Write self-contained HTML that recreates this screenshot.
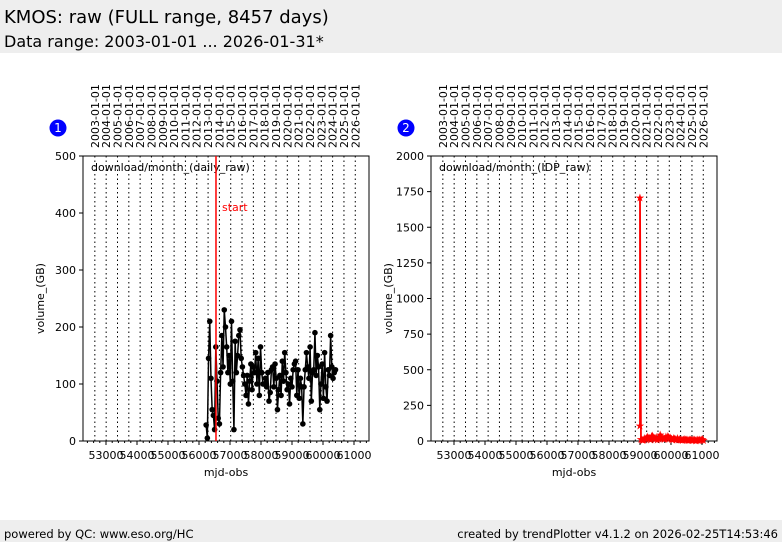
<!DOCTYPE html>
<html><head><meta charset="utf-8">
<style>
body{margin:0;width:782px;height:542px;background:#fff;font-family:"DejaVu Sans","Liberation Sans",sans-serif;position:relative;overflow:hidden}
#hdr{position:absolute;left:0;top:0;width:782px;height:53px;background:#eeeeee}
#t1{position:absolute;left:4px;top:7px;font-size:18px;color:#000}
#t2{position:absolute;left:4px;top:32px;font-size:16px;color:#000}
#ftr{position:absolute;left:0;top:520px;width:782px;height:22px;background:#eeeeee;font-size:11.5px}
#fl{position:absolute;left:4px;top:7px}
#fr{position:absolute;right:4px;top:7px}
svg{position:absolute;left:0;top:0}
</style></head><body>
<div id="hdr">
<div id="t1">KMOS: raw (FULL range, 8457 days)</div>
<div id="t2">Data range: 2003-01-01 ... 2026-01-31*</div>
</div>
<div id="ftr">
<span id="fl">powered by QC: www.eso.org/HC</span>
<span id="fr">created by trendPlotter v4.1.2 on 2026-02-25T14:53:46</span>
</div>
<svg id="chart" width="782" height="542"></svg>
<script>
const years=["2003","2004","2005","2006","2007","2008","2009","2010","2011","2012","2013","2014","2015","2016","2017","2018","2019","2020","2021","2022","2023","2024","2025","2026"];
const xTicks=[53000,54000,55000,56000,57000,58000,59000,60000,61000];
const leftYTicks=[0,100,200,300,400,500];
const rightYTicks=[0,250,500,750,1000,1250,1500,1750,2000];
const leftMjd0=56230, leftStep=39;
const leftValues=[28,5,145,210,110,55,45,20,165,105,40,30,120,185,130,230,200,165,120,150,100,210,105,20,175,120,150,185,195,145,130,115,100,80,115,65,105,135,90,130,120,155,100,145,80,165,120,100,100,110,95,120,70,85,125,130,95,135,110,55,90,115,80,140,105,155,120,90,100,65,110,95,125,135,140,80,125,75,110,95,30,95,125,155,130,110,165,70,120,125,190,115,150,130,55,100,135,75,155,95,70,125,115,185,130,110,120,125];
const startMjd=56548;
const rightMjd0=59000, rightStep=31;
const rightValues=[110,1710,15,10,8,12,20,15,25,30,18,22,12,35,40,28,20,15,25,10,18,22,45,30,25,20,15,18,30,22,35,28,20,25,15,12,20,18,15,10,22,12,15,10,12,8,10,14,9,12,10,6,8,10,12,6,8,10,12,5,8,10,6,10,7,12,14,8];
const NS="http://www.w3.org/2000/svg";
const svg=document.getElementById('chart');
function el(t,a,p){const e=document.createElementNS(NS,t);for(const k in a)e.setAttribute(k,a[k]);(p||svg).appendChild(e);return e;}
const XMIN=52258,XMAX=61484;
function mk(left){
 const L=left?83:431,R=left?369:717,T=156,B=441;
 const ymax=left?500:2000;
 const sx=v=>L+(v-XMIN)/(XMAX-XMIN)*(R-L);
 const sy=v=>B-v/ymax*(B-T);
 return {L,R,T,B,sx,sy};
}
function yearMjd(y){return Math.round((Date.UTC(+y,0,1)-Date.UTC(1858,10,17))/86400000);}
function panel(left){
 const a=mk(left);
 const g=el('g',{});
 
 
 years.forEach(y=>{
  const x=a.sx(yearMjd(y));
  const ln=el('line',{x1:x,x2:x,y1:a.T,y2:a.B,stroke:'#000','stroke-width':1,'stroke-dasharray':'1.5,3'},g);
  
  
  const tx=el('text',{x:x+4,y:a.T-8,'font-size':11,transform:`rotate(-90 ${x+4} ${a.T-8})`},g);
  tx.textContent=y+'-01-01';
  
  
 });
 for(let v=52400;v<=61400;v+=200){
  const x=a.sx(v);const maj=v%1000===0;
  el('line',{x1:x,x2:x,y1:a.B,y2:a.B+(maj?4:2),stroke:'#000'},g);
 }
 xTicks.forEach(v=>{
  const t=el('text',{x:a.sx(v),y:a.B+18,'font-size':11,'text-anchor':'middle'},g);
  t.textContent=v;
  
  
 });
 (left?leftYTicks:rightYTicks).forEach(v=>{
  const y=a.sy(v);
  el('line',{x1:a.L-4,x2:a.L,y1:y,y2:y,stroke:'#000'},g);
  const t=el('text',{x:a.L-7,y:y+4,'font-size':11,'text-anchor':'end'},g);
  t.textContent=v;
  
  
 });
 const fr=el('rect',{x:a.L,y:a.T,width:a.R-a.L,height:a.B-a.T,fill:'none',stroke:'#000','stroke-width':1},g);
 
 
 const xl=el('text',{x:(a.L+a.R)/2,y:a.B+35,'font-size':11,'text-anchor':'middle'},g);
 xl.textContent='mjd-obs';
 
 
 const yx=a.L-39,yy=(a.T+a.B)/2;
 const yl=el('text',{x:yx,y:yy,'font-size':11,'text-anchor':'middle',transform:`rotate(-90 ${yx} ${yy})`},g);
 yl.textContent='volume_(GB)';
 
 
 const lb=el('text',{x:a.L+8,y:a.T+15,'font-size':11},g);
 lb.textContent=left?'download/month_(daily_raw)':'download/month_(IDP_raw)';
 
 
 const cx=left?58:406;
 const c=el('circle',{cx:cx,cy:128,r:8.5,fill:'#0000ff'},g);
 
 
 const ct=el('text',{x:cx,y:132,'font-size':12,fill:'#fff','text-anchor':'middle'},g);
 ct.textContent=left?'1':'2';
 if(left){
  const pts=leftValues.map((v,i)=>[a.sx(leftMjd0+i*leftStep),a.sy(v)]);
  const pl=el('polyline',{points:pts.map(p=>p.join(',')).join(' '),fill:'none',stroke:'#000','stroke-width':1.5},g);
  
  
  pts.forEach(p=>{
   const d=el('circle',{cx:p[0],cy:p[1],r:2.8,fill:'#000'},g);
   
   
  });
  const sxv=a.sx(startMjd);
  const sl=el('line',{x1:sxv,x2:sxv,y1:a.T,y2:a.B,stroke:'#ff0000','stroke-width':1.5},g);
  
  
  const st=el('text',{x:sxv+6,y:211,'font-size':11,fill:'#ff0000'},g);
  st.textContent='start';
  
  
 } else {
  const pts=rightValues.map((v,i)=>[a.sx(rightMjd0+(i<2?0:(i-1)*rightStep)),a.sy(v)]);
  const pl=el('polyline',{points:pts.map(p=>p.join(',')).join(' '),fill:'none',stroke:'#ff0000','stroke-width':1.8},g);
  
  
  pts.forEach(p=>{
   const s=el('text',{x:p[0],y:p[1]+4,'font-size':11,fill:'#ff0000','text-anchor':'middle'},g);
   s.textContent='★';
   
   
  });
 }
}
panel(true);panel(false);
</script>
</body></html>
